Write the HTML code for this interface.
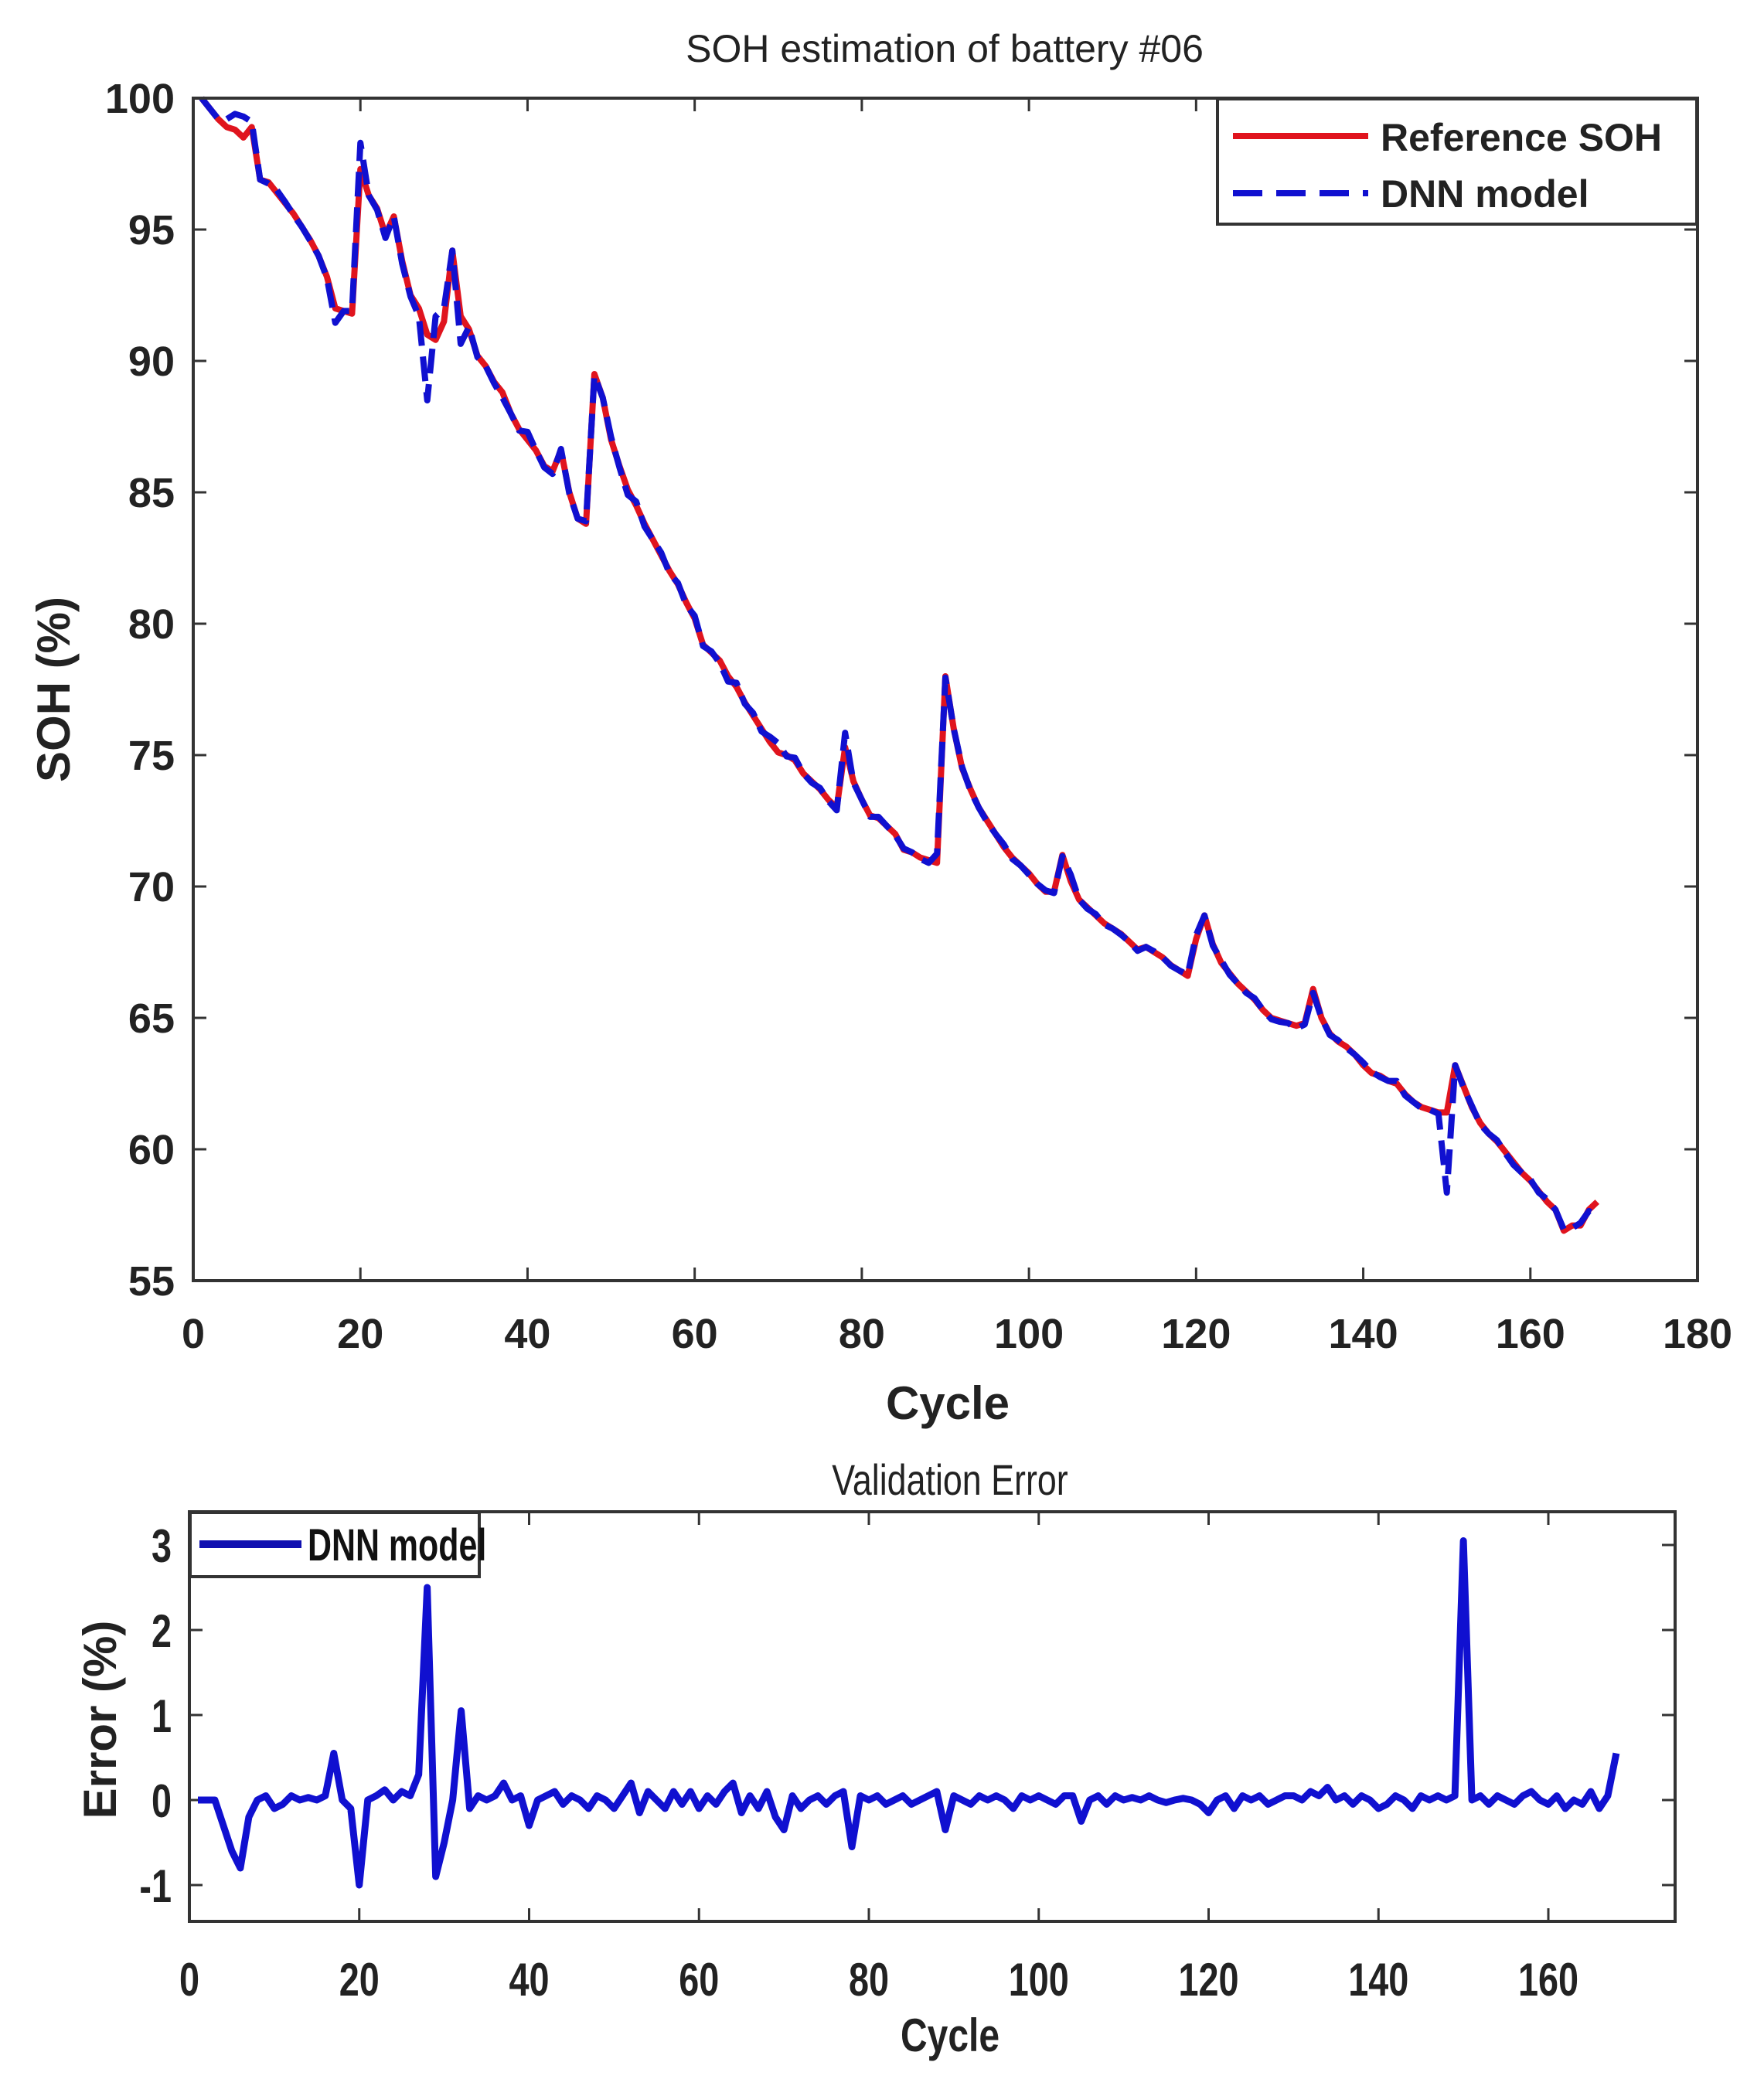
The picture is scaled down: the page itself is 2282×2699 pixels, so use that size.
<!DOCTYPE html>
<html><head><meta charset="utf-8"><style>
html,body{margin:0;padding:0;background:#fff;}
svg{display:block;font-family:"Liberation Sans",sans-serif;}
</style></head><body>
<svg id="c" width="2282" height="2699" viewBox="0 0 2282 2699" xmlns="http://www.w3.org/2000/svg">
<rect width="2282" height="2699" fill="#fff"/>
<g id="top"></g>
<g id="bot"></g>
</svg>
<script>
const cycles = Array.from({length:168},(_,i)=>i+1);
const refSOH = [
100,99.6,99.2,98.9,98.8,98.5,98.9,96.9,96.8,96.4,
96.0,95.6,95.1,94.6,94.0,93.2,92.0,91.9,91.8,97.3,
96.3,95.8,94.8,95.5,93.8,92.5,92.0,91.0,90.8,91.5,
94.2,91.7,91.2,90.2,89.8,89.2,88.8,88.0,87.4,87.0,
86.6,86.0,85.8,86.6,85.0,84.0,83.8,89.5,88.6,87.0,
86.0,85.1,84.5,83.8,83.2,82.6,82.0,81.5,80.8,80.2,
79.2,78.9,78.6,78.0,77.6,77.0,76.5,76.0,75.5,75.1,
75.0,74.8,74.3,74.0,73.7,73.3,73.0,75.3,74.0,73.3,
72.7,72.6,72.3,72.0,71.4,71.3,71.1,71.0,70.9,78.0,
76.0,74.5,73.7,73.0,72.5,72.0,71.5,71.1,70.8,70.5,
70.1,69.8,69.8,71.2,70.2,69.5,69.2,68.9,68.6,68.4,
68.2,67.9,67.6,67.7,67.5,67.3,67.0,66.8,66.6,68.0,
68.9,67.8,67.1,66.7,66.3,66.0,65.7,65.3,65.0,64.9,
64.8,64.7,64.8,66.1,65.0,64.4,64.1,63.9,63.6,63.2,
62.9,62.8,62.6,62.5,62.1,61.8,61.6,61.5,61.4,61.4,
63.2,62.4,61.6,61.0,60.6,60.3,59.9,59.5,59.1,58.8,
58.4,58.0,57.7,56.9,57.1,57.1,57.7,58.0];
const errVals = [
0,0,0,-0.3,-0.6,-0.8,-0.2,0,0.05,-0.1,
-0.05,0.05,0,0.03,0,0.05,0.55,0,-0.1,-1.0,
0,0.05,0.12,0,0.1,0.05,0.3,2.5,-0.9,-0.5,
0,1.05,-0.1,0.05,0,0.05,0.2,0,0.05,-0.3,
0,0.05,0.1,-0.05,0.05,0,-0.1,0.05,0,-0.1,
0.05,0.2,-0.15,0.1,0,-0.1,0.1,-0.05,0.1,-0.1,
0.05,-0.05,0.1,0.2,-0.15,0.05,-0.1,0.1,-0.2,-0.35,
0.05,-0.1,0,0.05,-0.05,0.05,0.1,-0.55,0.05,0,
0.05,-0.05,0,0.05,-0.05,0,0.05,0.1,-0.35,0.05,
0,-0.05,0.05,0,0.05,0,-0.1,0.05,0,0.05,
0,-0.05,0.05,0.05,-0.25,0,0.05,-0.05,0.05,0,
0.03,0,0.05,0,-0.03,0,0.02,0,-0.05,-0.15,
0,0.05,-0.1,0.05,0,0.05,-0.05,0,0.05,0.05,
0,0.1,0.05,0.15,0,0.05,-0.05,0.05,0,-0.1,
-0.05,0.05,0,-0.1,0.05,0,0.05,0,0.05,3.05,
0,0.05,-0.05,0.05,0,-0.05,0.05,0.1,0,-0.05,
0.05,-0.1,0,-0.05,0.1,-0.1,0.05,0.55];
const topXTicks = [0,20,40,60,80,100,120,140,160,180];
const topYTicks = [55,60,65,70,75,80,85,90,95,100];
const botXTicks = [0,20,40,60,80,100,120,140,160];
const botYTicks = [-1,0,1,2,3];

const NS="http://www.w3.org/2000/svg";
function mk(parent,tag,attrs){const e=document.createElementNS(NS,tag);for(const k in attrs)e.setAttribute(k,attrs[k]);parent.appendChild(e);return e;}

// ---------- top chart ----------
const T=document.getElementById('top');
const tx=v=>250+(v-0)/(180-0)*(2196-250);
const ty=v=>1657-(v-55)/(100-55)*(1657-127);
const dnn=refSOH.map((v,i)=>v-errVals[i]);

let t=mk(T,'text',{x:1222,y:80,'font-size':50,'text-anchor':'middle',fill:'#222'});t.textContent='SOH estimation of battery #06';



topXTicks.forEach(v=>{
  let l=mk(T,'line',{x1:tx(v),x2:tx(v),y1:1657,y2:1640,stroke:'#333','stroke-width':3});
  
  
  let l2=mk(T,'line',{x1:tx(v),x2:tx(v),y1:127,y2:144,stroke:'#333','stroke-width':3});
  
  
  let s=mk(T,'text',{x:tx(v),y:1744,'font-size':54,'font-weight':'bold','text-anchor':'middle',fill:'#222'});s.textContent=v;
  
  
});
topYTicks.forEach(v=>{
  let l=mk(T,'line',{x1:250,x2:267,y1:ty(v),y2:ty(v),stroke:'#333','stroke-width':3});
  
  
  let l2=mk(T,'line',{x1:2196,x2:2179,y1:ty(v),y2:ty(v),stroke:'#333','stroke-width':3});
  
  
  let s=mk(T,'text',{x:226,y:ty(v)+19,'font-size':54,'font-weight':'bold','text-anchor':'end',fill:'#222'});s.textContent=v;
  
  
});
t=mk(T,'text',{x:1226,y:1836,'font-size':60,'font-weight':'bold','text-anchor':'middle',fill:'#222'});t.textContent='Cycle';


t=mk(T,'text',{x:0,y:0,'font-size':60,'font-weight':'bold','text-anchor':'middle',fill:'#222',transform:'translate(90,892) rotate(-90)'});t.textContent='SOH (%)';



let p=mk(T,'polyline',{points:cycles.map((c,i)=>tx(c)+','+ty(refSOH[i])).join(' '),fill:'none',stroke:'#e0141e','stroke-width':8,'stroke-linejoin':'round'});


p=mk(T,'polyline',{points:cycles.map((c,i)=>tx(c)+','+ty(dnn[i])).join(' '),fill:'none',stroke:'#1010d0','stroke-width':8,'stroke-dasharray':'32 14','stroke-linejoin':'round'});



let fr=mk(T,'rect',{x:250,y:127,width:1946,height:1530,fill:'none',stroke:'#333','stroke-width':4});



let lg=mk(T,'g',{});


mk(lg,'rect',{x:1575,y:128,width:620,height:162,fill:'#fff',stroke:'#333','stroke-width':4});
let e1=mk(lg,'line',{x1:1595,x2:1770,y1:176,y2:176,stroke:'#e0141e','stroke-width':8});


t=mk(lg,'text',{x:1786,y:195,'font-size':50,'font-weight':'bold',fill:'#222'});t.textContent='Reference SOH';


let e2=mk(lg,'line',{x1:1595,x2:1770,y1:250,y2:250,stroke:'#1010d0','stroke-width':8,'stroke-dasharray':'38 18'});


t=mk(lg,'text',{x:1786,y:268,'font-size':50,'font-weight':'bold',fill:'#222'});t.textContent='DNN model';



// ---------- bottom chart ----------
const B=document.getElementById('bot');
const bx=v=>245+v*(2003-245)/160;
const by=v=>2329-v*110;

t=mk(B,'text',{x:0,y:0,'font-size':56,'text-anchor':'middle',fill:'#222',transform:'translate(1229,1934) scale(0.8,1)'});t.textContent='Validation Error';


botXTicks.forEach(v=>{
  let l=mk(B,'line',{x1:bx(v),x2:bx(v),y1:2486,y2:2469,stroke:'#333','stroke-width':3});
  
  
  let l2=mk(B,'line',{x1:bx(v),x2:bx(v),y1:1956,y2:1973,stroke:'#333','stroke-width':3});
  
  
  let s=mk(B,'text',{x:0,y:0,'font-size':60,'font-weight':'bold','text-anchor':'middle',fill:'#222',transform:'translate('+bx(v)+',2582) scale(0.78,1)'});s.textContent=v;
  
  
});
botYTicks.forEach(v=>{
  let l=mk(B,'line',{x1:245,x2:262,y1:by(v),y2:by(v),stroke:'#333','stroke-width':3});
  
  
  let l2=mk(B,'line',{x1:2167,x2:2150,y1:by(v),y2:by(v),stroke:'#333','stroke-width':3});
  
  
  let s=mk(B,'text',{x:0,y:0,'font-size':60,'font-weight':'bold','text-anchor':'end',fill:'#222',transform:'translate(222,'+(by(v)+22)+') scale(0.78,1)'});s.textContent=v;
  
  
});
t=mk(B,'text',{x:0,y:0,'font-size':60,'font-weight':'bold','text-anchor':'middle',fill:'#222',transform:'translate(1229,2654) scale(0.8,1)'});t.textContent='Cycle';


t=mk(B,'text',{x:0,y:0,'font-size':60,'font-weight':'bold','text-anchor':'middle',fill:'#222',transform:'translate(150,2225) rotate(-90)'});t.textContent='Error (%)';



p=mk(B,'polyline',{points:cycles.map((c,i)=>bx(c)+','+by(errVals[i])).join(' '),fill:'none',stroke:'#1010d0','stroke-width':9,'stroke-linejoin':'round'});



fr=mk(B,'rect',{x:245,y:1956,width:1922,height:530,fill:'none',stroke:'#333','stroke-width':4});



lg=mk(B,'g',{});


mk(lg,'rect',{x:246,y:1957,width:374,height:83,fill:'#fff',stroke:'#333','stroke-width':4});
e1=mk(lg,'line',{x1:258,x2:390,y1:1998,y2:1998,stroke:'#1010b0','stroke-width':10});


t=mk(lg,'text',{x:0,y:0,'font-size':58,'font-weight':'bold',fill:'#111',transform:'translate(398,2019) scale(0.74,1)'});t.textContent='DNN model';


</script>
</body></html>
